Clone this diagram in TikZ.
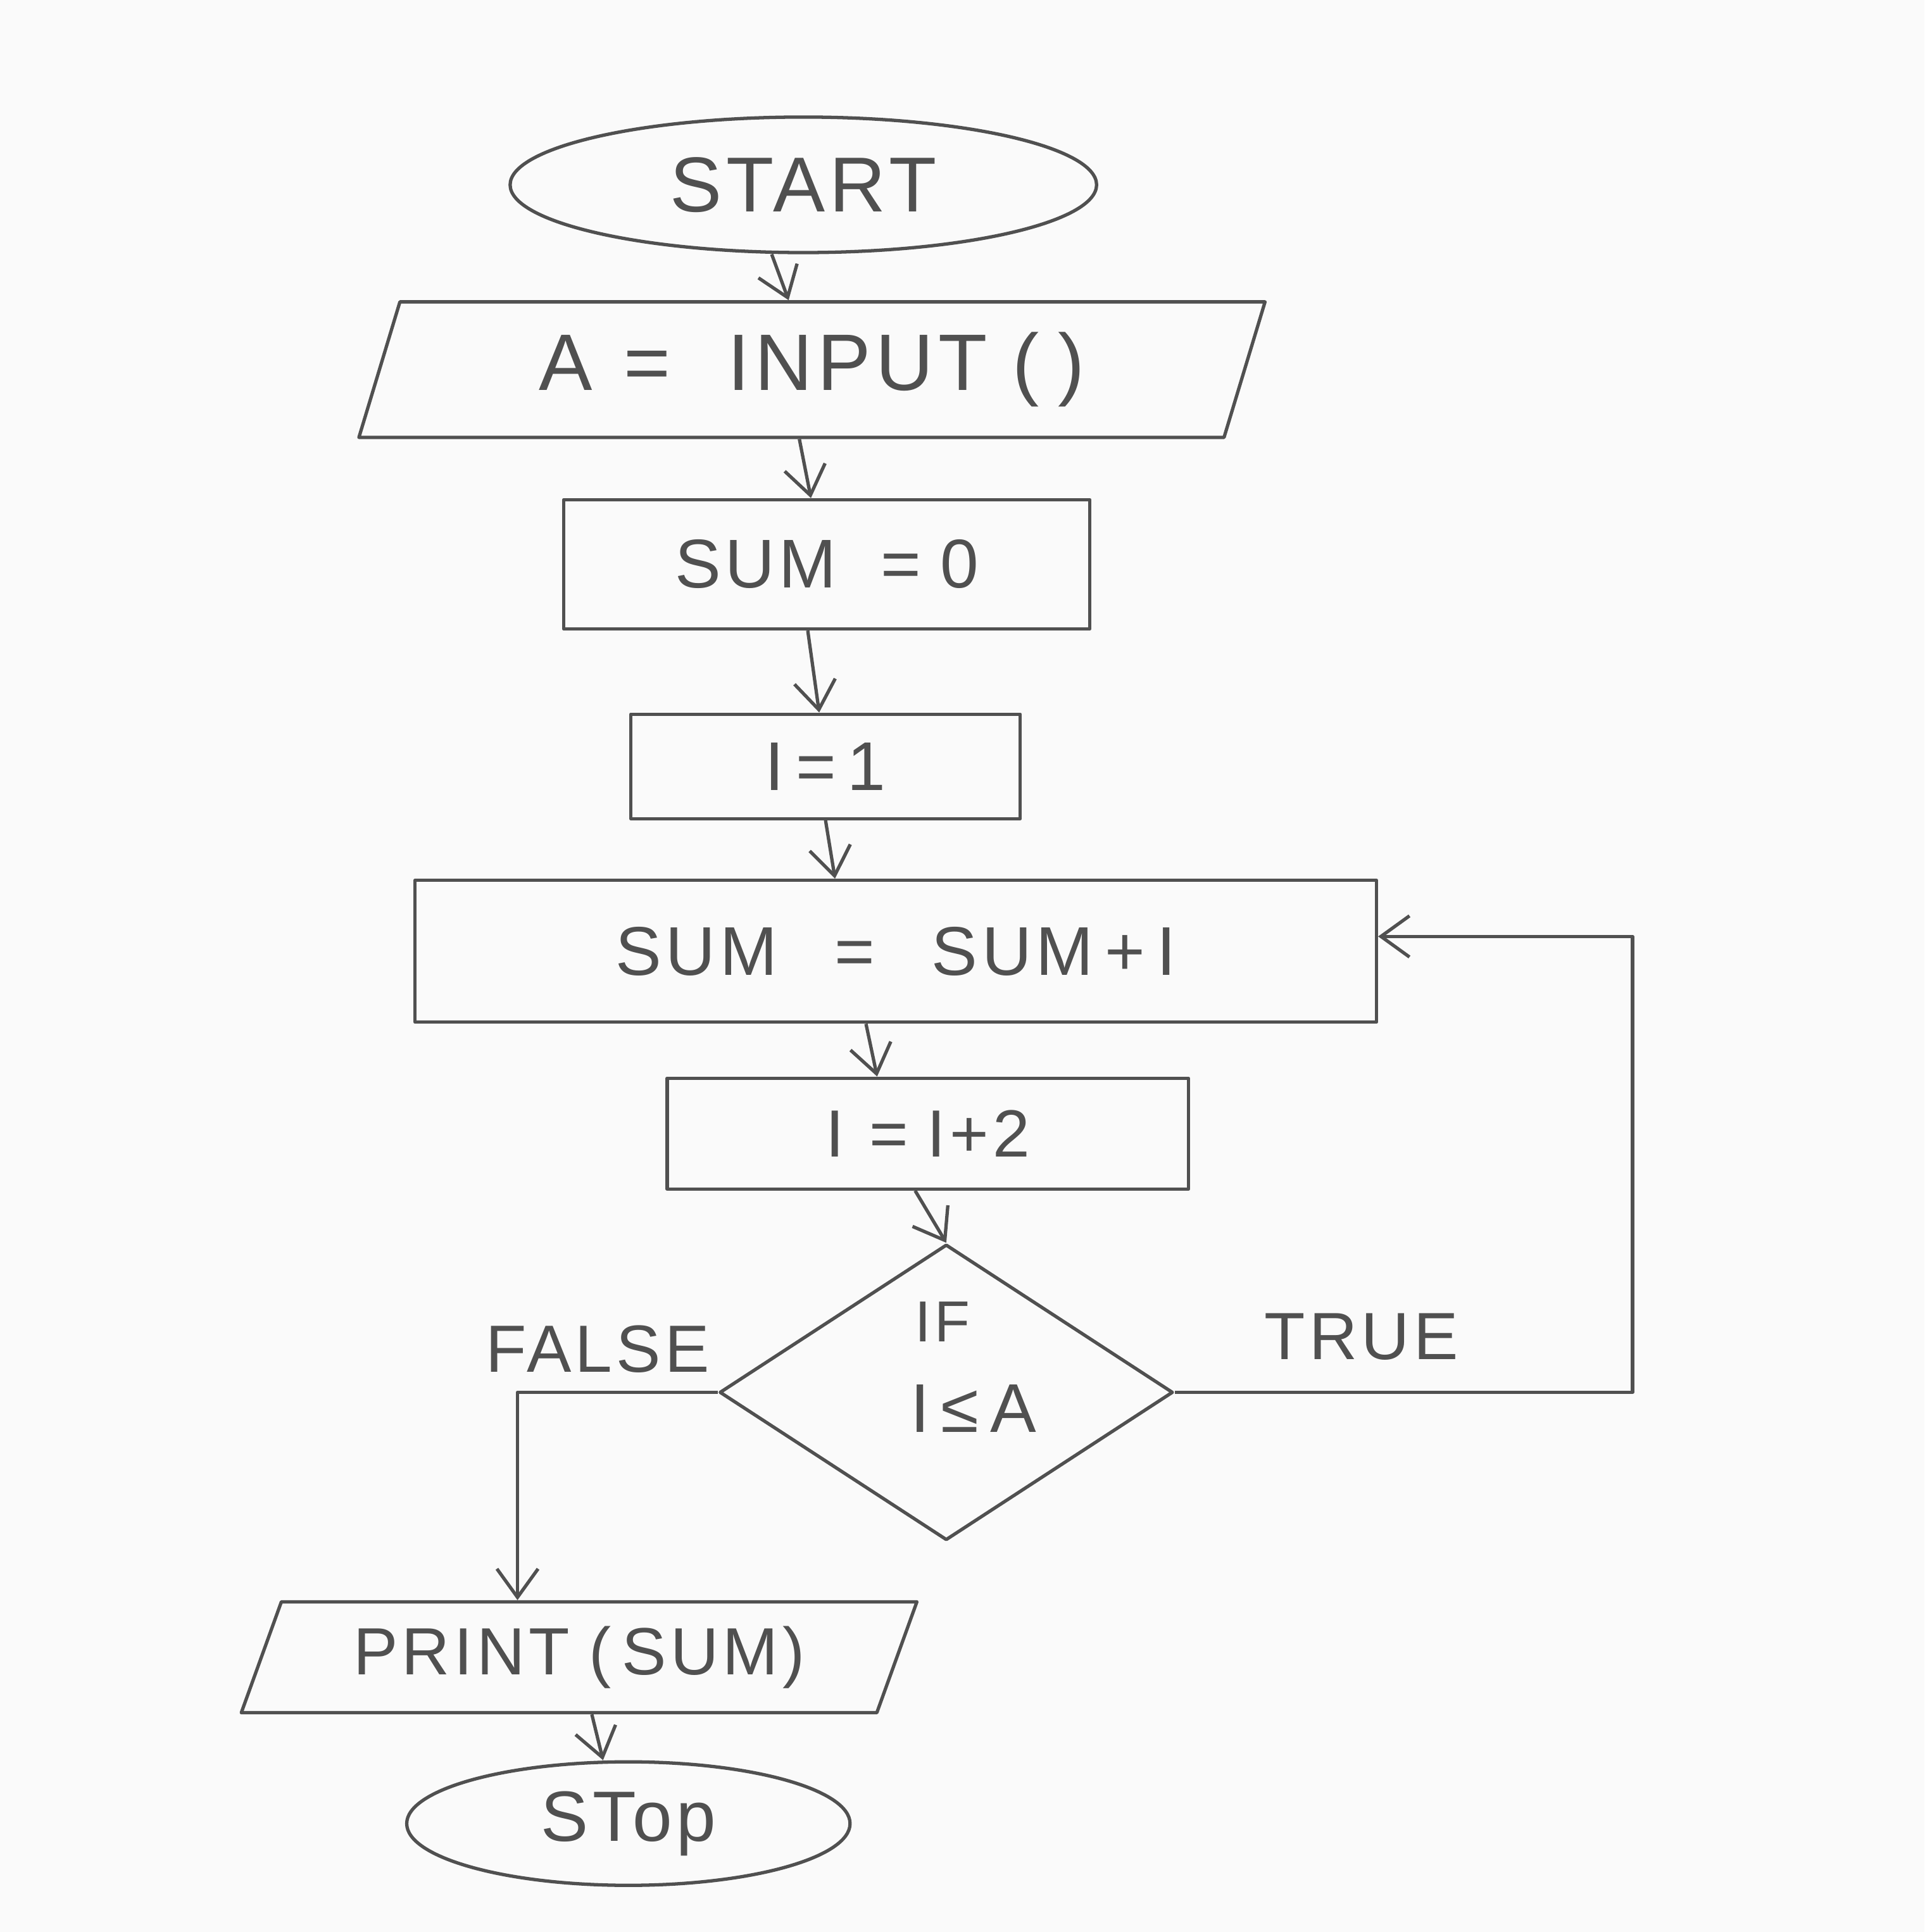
\documentclass[tikz,border=0pt]{standalone}
\usepackage{fontspec}
\setmainfont{Liberation Sans}[LetterSpace=6]
\usetikzlibrary{shapes.geometric,arrows.meta}
\definecolor{pencil}{RGB}{80,80,80}
\definecolor{paper}{RGB}{250,250,250}
\newcommand{\myfs}[1]{\fontsize{#1}{#1}\selectfont}
\begin{document}
\begin{tikzpicture}[x=0.01946cm,y=-0.01946cm,
  every node/.style={text=pencil},
  line/.style={draw=pencil, line width=1.5pt, line join=round},
  term/.style={line, ellipse, inner sep=0pt},
  boxnode/.style={line, rectangle, inner sep=0pt},
  io/.style={line, trapezium, trapezium left angle=70, trapezium right angle=110, trapezium stretches=true, inner sep=0pt},
  dec/.style={line, diamond, inner sep=0pt},
  arr/.style={line, -{Straight Barb[length=0.45cm, width=0.65cm, line width=1.5pt]}},
  lbl/.style={font=\myfs{30}}]
\useasboundingbox[fill=paper] (0,0) rectangle (1562,1568);

% nodes
\node[term, minimum width=9.26cm, minimum height=2.14cm, font=\myfs{35}] (start) at (652,150) {START};
\node[io, minimum width=14.36cm, minimum height=2.14cm, font=\myfs{36}] (input) at (659,300) {A\hspace{0.5cm}=\hspace{0.9cm}INPUT\hspace{0.4cm}(\hspace{0.3cm})};
\node[boxnode, minimum width=8.31cm, minimum height=2.04cm, font=\myfs{31}] (sumzero) at (671,458) {SUM\hspace{0.7cm}=\hspace{0.3cm}0};
\node[boxnode, minimum width=6.15cm, minimum height=1.65cm, font=\myfs{31}] (ione) at (670,622) {I\,=\,1};
\node[boxnode, minimum width=15.18cm, minimum height=2.24cm, font=\myfs{31}] (sumadd) at (727,772) {SUM\hspace{0.9cm}=\hspace{0.9cm}SUM\,+\,I};
\node[boxnode, minimum width=8.23cm, minimum height=1.75cm, font=\myfs{30}] (itwo) at (753,920) {I\hspace{0.4cm}=\hspace{0.3cm}I+2};
\node[dec, minimum width=7.16cm, minimum height=4.67cm] (dia) at (768,1130) {};
\node[font=\myfs{26}] (iftxt) at (765,1073) {IF};
\node[font=\myfs{31}] (cond) at (790,1143) {I\,≤\,A};
\node[lbl] (false) at (485,1095) {FALSE};
\node[lbl] (true) at (1105,1085) {TRUE};
\node[io, trapezium left angle=64, trapezium right angle=116, minimum width=10.7cm, minimum height=1.75cm, font=\myfs{30}] (print) at (470,1345) {PRINT\hspace{0.3cm}(\,SUM)};
\node[term, minimum width=7.0cm, minimum height=1.95cm, font=\myfs{32}] (stop) at (510,1480) {STop};

\coordinate (tu) at (1325,760);
\coordinate (fl) at (420,1150);

% connectors
\draw[arr] ([xshift=-0.5cm]start.south) -- ([xshift=-0.37cm]input.north);
\draw[arr] ([xshift=-0.2cm]input.south) -- ([xshift=-0.25cm]sumzero.north);
\draw[arr] ([xshift=-0.3cm]sumzero.south) -- ([xshift=-0.1cm]ione.north);
\draw[arr] (ione.south) -- ([xshift=0.15cm]ione.south |- sumadd.north);
\draw[arr] ([xshift=-0.47cm]sumadd.south) -- ([xshift=-0.8cm]itwo.north);
\draw[arr] ([xshift=-0.2cm]itwo.south) -- (dia.north);
\draw[arr] (dia.east) -- (dia.east -| tu) -- (tu) -- (sumadd.east |- tu);
\draw[arr] (dia.west) -- (dia.west -| fl) -- (fl |- print.north);
\draw[arr] ([xshift=0.2cm]print.south) -- ([xshift=-0.4cm]stop.north);
\end{tikzpicture}
\end{document}
